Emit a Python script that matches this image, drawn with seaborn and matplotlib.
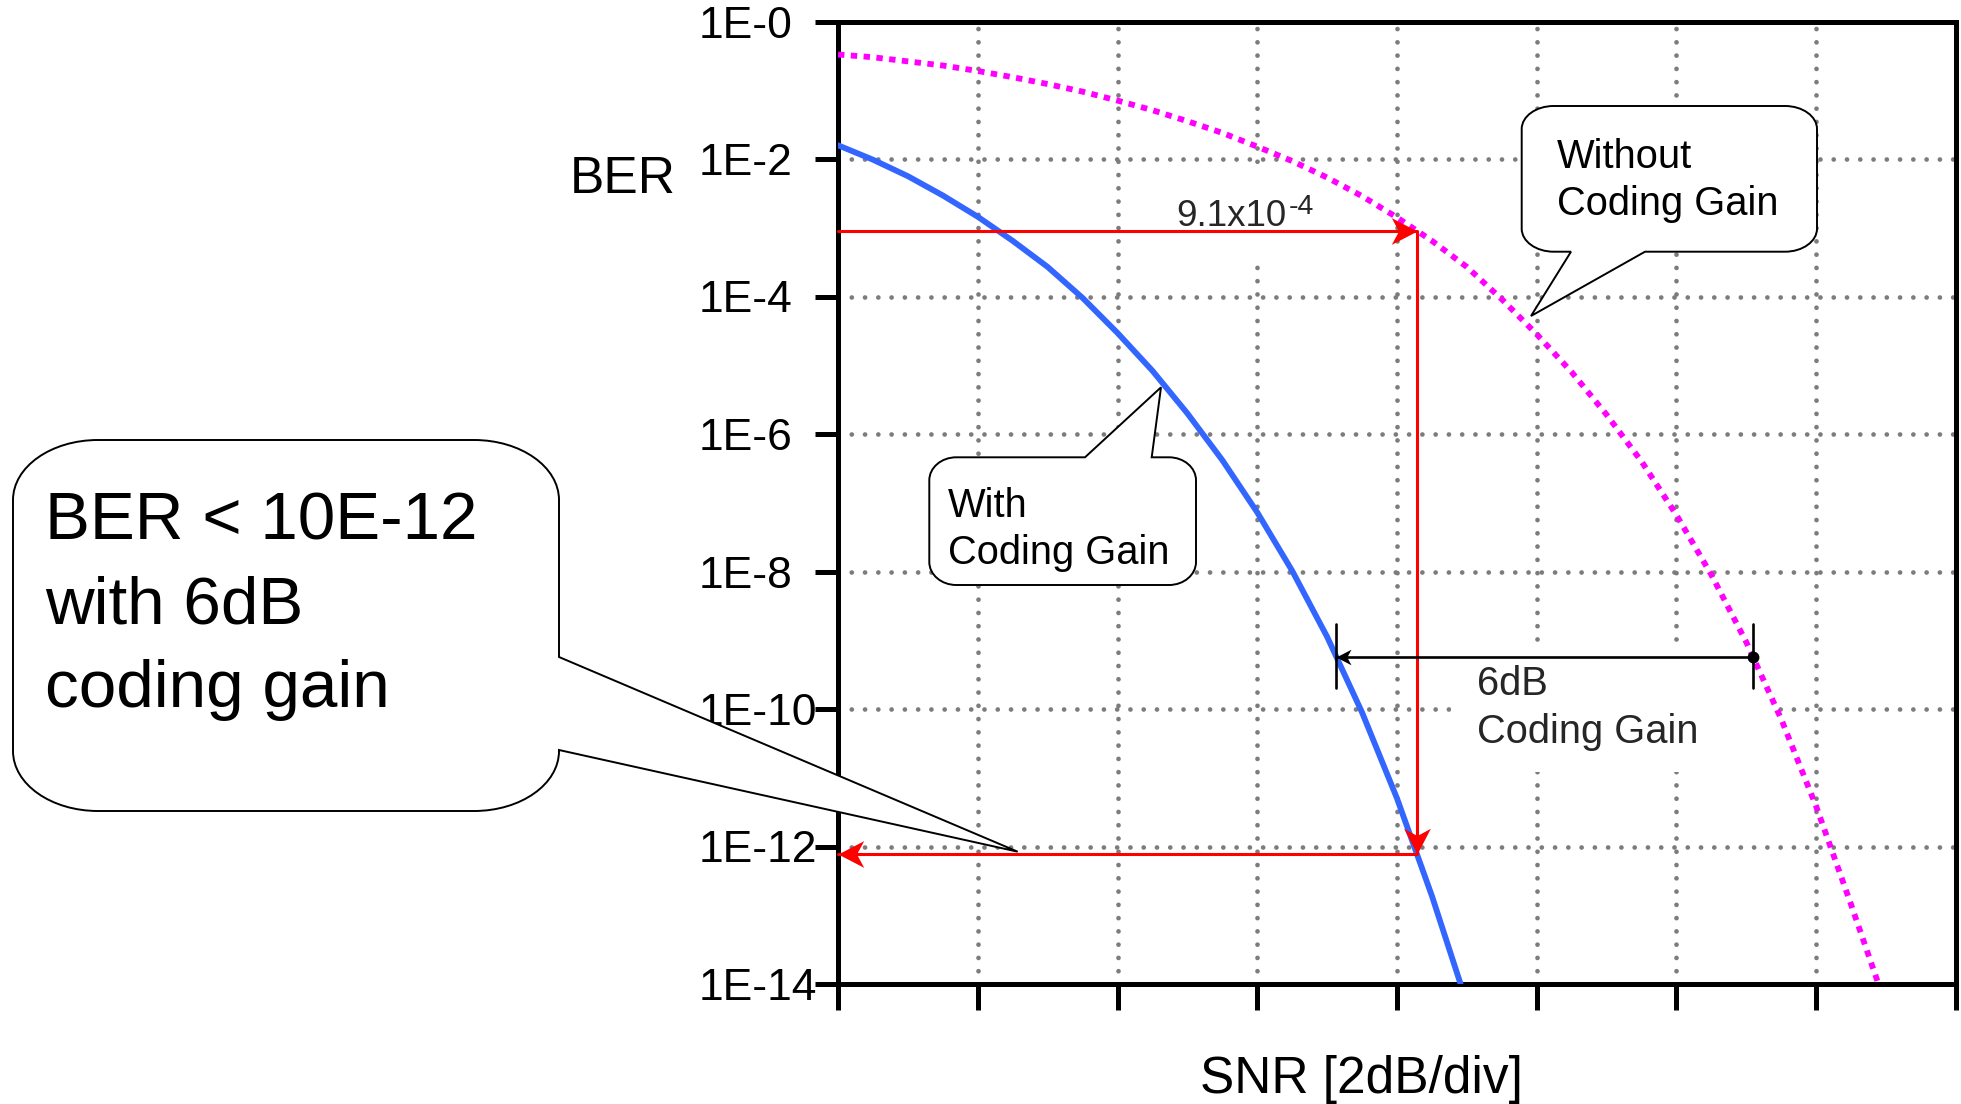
import numpy as np
import matplotlib
matplotlib.use("Agg")
import matplotlib.pyplot as plt
import seaborn as sns
from matplotlib.path import Path
from matplotlib.patches import PathPatch, Rectangle
from matplotlib.markers import MarkerStyle
from matplotlib.ticker import NullLocator
from matplotlib.transforms import Affine2D

# --- values ---
snr_ticks = [0, 2, 4, 6, 8, 10, 12, 14, 16]
ber_ticks = [1e0, 1e-2, 1e-4, 1e-6, 1e-8, 1e-10, 1e-12, 1e-14]
ber_tick_labels = ["1E-0", "1E-2", "1E-4", "1E-6", "1E-8", "1E-10", "1E-12", "1E-14"]

# with coding gain (blue), BER given as log10
snr_coded = [0.0, 0.5, 1.0, 1.5, 2.0, 2.5, 3.0, 3.5, 4.0, 4.5, 5.0, 5.5, 6.0, 6.5,
             7.0, 7.5, 8.0, 8.5, 8.91]
ber_exp_coded = [-1.80, -2.01, -2.25, -2.53, -2.84, -3.19, -3.57, -4.02, -4.53, -5.08,
                 -5.70, -6.38, -7.14, -7.99, -8.95, -10.05, -11.30, -12.72, -14.0]

# without coding gain (magenta), BER given as log10
snr_uncoded = [0.0, 0.5, 1.0, 1.5, 2.0, 2.5, 3.0, 3.5, 4.0, 4.5, 5.0, 5.5, 6.0, 6.5,
               7.0, 7.5, 8.0, 8.5, 9.0, 9.5, 10.0, 10.5, 11.0, 11.5, 12.0, 12.5, 13.0,
               13.5, 14.0, 14.5, 14.89]
ber_exp_uncoded = [-0.48, -0.52, -0.58, -0.64, -0.72, -0.81, -0.91, -1.02, -1.15, -1.29,
                   -1.45, -1.62, -1.82, -2.03, -2.27, -2.54, -2.85, -3.19, -3.57, -4.04,
                   -4.55, -5.10, -5.72, -6.40, -7.18, -8.05, -9.03, -10.15, -11.42,
                   -12.85, -14.0]

# red construction lines
snr_ref = 8.28
ber_ref = 9.1e-4
ber_target = 7.8e-13

# 6 dB coding gain marker
snr_gain = [7.13, 13.09]
ber_gain = 5.75e-10
ber_gain_bar = [1.7e-9, 2.0e-10]

# --- figure ---
sns.set_theme(style="ticks")
plt.rcParams["font.family"] = ["Liberation Sans", "DejaVu Sans"]

W, H = 1961, 1104
fig = plt.figure(figsize=(W / 100, H / 100), dpi=100)
px = Affine2D().scale(1, -1).translate(0, H)  # pixel coords, origin top-left

ax = fig.add_axes([838 / W, 1 - 984 / H, (1956 - 838) / W, (984 - 21.5) / H])
ax.set_yscale("log")
ax.set_axisbelow(True)

sns.lineplot(x=snr_coded, y=10.0 ** np.array(ber_exp_coded), ax=ax, color="#3366ff")
coded_line = ax.lines[-1]
coded_line.set_linewidth(4.2)
coded_line.set_zorder(3)

sns.lineplot(x=snr_uncoded, y=10.0 ** np.array(ber_exp_uncoded), ax=ax, color="#ff00ff")
uncoded_line = ax.lines[-1]
uncoded_line.set_linewidth(4.2)
uncoded_line.set_linestyle((0, (1.1, 1.1)))
uncoded_line.set_dash_capstyle("butt")
uncoded_line.set_zorder(3)

ax.set_xlim(0, 16)
ax.set_ylim(1e-14, 1)
ax.set_xticks(snr_ticks)
ax.set_yticks(ber_ticks, labels=ber_tick_labels)
ax.yaxis.set_minor_locator(NullLocator())
ax.grid(True, color="#7c7c7c", linestyle=(0, (0.01, 2.8)), linewidth=3.4,
        dash_capstyle="round")

for s in ax.spines.values():
    s.set_linewidth(3.6)
    s.set_color("black")
ax.tick_params(axis="x", length=18.7, width=3.6, color="black", labelbottom=False)
ax.tick_params(axis="y", length=16.5, width=3.6, color="black", pad=83.5,
               labelsize=32, labelcolor="black")
for lab in ax.get_yticklabels():
    lab.set_horizontalalignment("left")

ax.set_xlabel("SNR [2dB/div]", fontsize=37, color="black")
ax.xaxis.set_label_coords(1361.5, 1093, transform=px)
ax.xaxis.label.set_verticalalignment("baseline")
ax.set_ylabel("BER", fontsize=37, rotation=0, color="black")
ax.yaxis.set_label_coords(570, 193, transform=px)
ax.yaxis.label.set_horizontalalignment("left")
ax.yaxis.label.set_verticalalignment("baseline")

# arrow heads as custom markers (tip at the origin, pointing right)
head = Path([(0, 0), (-1, 0.52), (-0.72, 0), (-1, -0.52), (0, 0)],
            [Path.MOVETO, Path.LINETO, Path.LINETO, Path.LINETO, Path.CLOSEPOLY])


def arrow_head(x, y, angle, size, color):
    m = MarkerStyle(head, transform=Affine2D().rotate_deg(angle))
    ax.plot([x], [y], marker=m, markersize=size, color=color, markeredgewidth=0,
            linestyle="none", clip_on=False, zorder=5)


# red lines: 9.1e-4 on the uncoded curve, down to the coded curve, back to the axis
ax.plot([0, snr_ref, snr_ref, 0], [ber_ref, ber_ref, ber_target, ber_target],
        color="red", linewidth=2.2, zorder=4, clip_on=False)
arrow_head(snr_ref, ber_ref, 0, 37, "red")
arrow_head(snr_ref, ber_target, -90, 37, "red")
arrow_head(0, ber_target, 180, 37, "red")

t91 = ax.text(4.84, 10 ** -2.97, "9.1x10", fontsize=26.5, ha="left", va="baseline",
              zorder=2.6, bbox=dict(boxstyle="square,pad=0.75", fc="white", ec="none"))
ax.annotate("-4", xy=(1, 1), xycoords=t91, xytext=(1.5, 3.5), textcoords="offset points",
            fontsize=20.5, ha="left", va="top", zorder=2.7)

# 6 dB coding gain arrow
ax.plot(snr_gain, [ber_gain, ber_gain], color="black", linewidth=1.9, zorder=4)
for x in snr_gain:
    ax.plot([x, x], ber_gain_bar, color="black", linewidth=1.9, zorder=4)
arrow_head(snr_gain[0], ber_gain, 180, 21.6, "black")
ax.plot([snr_gain[1]], [ber_gain], "o", markersize=7.5, color="black", zorder=5)

ax.add_patch(Rectangle((1451, 650), 320, 122, transform=px, fc="white", ec="none", zorder=1))
ax.text(9.14, 10 ** -9.796, "6dB", fontsize=28.7, ha="left", va="baseline", zorder=2.6)
ax.text(9.14, 10 ** -10.495, "Coding Gain", fontsize=28.7, ha="left", va="baseline", zorder=2.6)


# speech bubble callouts, drawn in figure pixels
def callout(x0, y0, x1, y1, rx, ry, edge, p, q, tip, lines, size, tx, baselines):
    kx, ky = 0.5523 * rx, 0.5523 * ry
    verts = [(x0 + rx, y0)]
    codes = [Path.MOVETO]

    def line(pt):
        verts.append(pt)
        codes.append(Path.LINETO)

    def curve(c1, c2, pt):
        verts.extend([c1, c2, pt])
        codes.extend([Path.CURVE4] * 3)

    if edge == "top":
        line((p, y0)); line(tip); line((q, y0))
    line((x1 - rx, y0))
    curve((x1 - rx + kx, y0), (x1, y0 + ry - ky), (x1, y0 + ry))
    if edge == "right":
        line((x1, p)); line(tip); line((x1, q))
    line((x1, y1 - ry))
    curve((x1, y1 - ry + ky), (x1 - rx + kx, y1), (x1 - rx, y1))
    if edge == "bottom":
        line((q, y1)); line(tip); line((p, y1))
    line((x0 + rx, y1))
    curve((x0 + rx - kx, y1), (x0, y1 - ry + ky), (x0, y1 - ry))
    line((x0, y0 + ry))
    curve((x0, y0 + ry - ky), (x0 + rx - kx, y0), (x0 + rx, y0))
    verts.append((x0 + rx, y0))
    codes.append(Path.CLOSEPOLY)
    fig.add_artist(PathPatch(Path(verts, codes), transform=px, fc="white",
                             ec="black", linewidth=1.4, zorder=5))
    for s, b in zip(lines, baselines):
        fig.text(tx, b, s, transform=px, fontsize=size, ha="left", va="baseline",
                 color="black", zorder=6)


callout(13, 440, 559, 811, 85, 60, "right", 657, 750, (1017.7, 851.7),
        ["BER < 10E-12", "with 6dB", "coding gain"], 48.5, 45, [540, 623.5, 707])
callout(1521.7, 106, 1817, 251.7, 32, 23, "bottom", 1571, 1645, (1531, 316),
        ["Without", "Coding Gain"], 28.7, 1556.7, [167.7, 215])
callout(929.3, 457.3, 1196, 585, 27, 23, "top", 1085, 1151.7, (1161, 387.3),
        ["With", "Coding Gain"], 28.7, 948.3, [516.7, 564])

fig.savefig("out.png", dpi=100)
